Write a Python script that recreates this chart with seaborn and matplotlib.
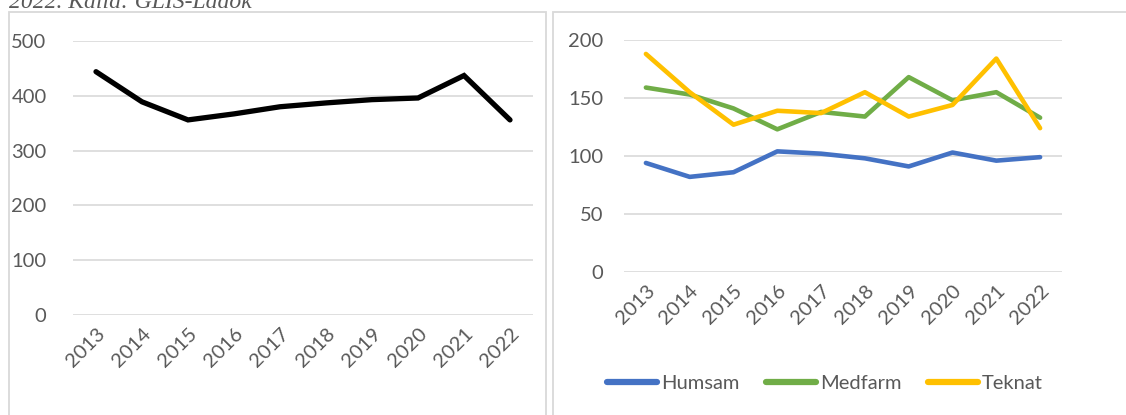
import matplotlib
matplotlib.use("Agg")
import matplotlib.pyplot as plt
import seaborn as sns
import pandas as pd
from matplotlib.patches import Rectangle

# data
years = [str(y) for y in range(2013, 2023)]
total = [444, 389, 356, 367, 380, 387, 393, 396, 437, 356]
humsam = [94, 82, 86, 104, 102, 98, 91, 103, 96, 99]
medfarm = [159, 153, 141, 123, 138, 134, 168, 148, 155, 133]
teknat = [188, 155, 127, 139, 137, 155, 134, 144, 184, 124]

series_names = ["Humsam", "Medfarm", "Teknat"]
series_colors = ["#4472C4", "#70AD47", "#FFC000"]

sns.set_style("white")
plt.rcParams['font.family'] = ['Lato', 'DejaVu Sans']

W, H = 1126, 415
fig = plt.figure(figsize=(W / 100, H / 100), dpi=100)

def fx(px):
    return px / W

def fy(py):
    return 1 - py / H

# chart frames (cut off at the edges like the screenshot)
for x0, x1 in [(9, 546), (553, 1140)]:
    fig.patches.append(Rectangle((fx(x0), fy(430)), fx(x1 - x0), (430 - 12) / H,
                                 transform=fig.transFigure, fill=False,
                                 edgecolor="#D9D9D9", lw=1.3, clip_on=False))

fig.text(fx(9), fy(8), "2022. Källa: GLIS-Ladok", family="Liberation Serif",
         style="italic", fontsize=17, color="#595959", va="baseline", ha="left")

tick_color = "#595959"
fs = 14.5

def style_axis(ax, ymax, step, pad):
    ax.set_xlim(-0.5, 9.5)
    ax.set_ylim(0, ymax)
    ax.set_yticks(range(0, ymax + 1, step))
    ax.set_xticks(range(len(years)))
    ax.set_xticklabels(years, rotation=45, ha="right", rotation_mode="anchor")
    ax.grid(axis="y", color="#D9D9D9", lw=1.2)
    ax.set_axisbelow(True)
    for s in ax.spines.values():
        s.set_visible(False)
    ax.tick_params(axis="both", length=0, labelsize=fs, colors=tick_color)
    ax.tick_params(axis="y", pad=pad)
    ax.tick_params(axis="x", pad=7)
    ax.set_xlabel("")
    ax.set_ylabel("")

# left chart
ax1 = fig.add_axes([fx(73), fy(315), fx(533 - 73), (315 - 41) / H])
df1 = pd.DataFrame({"year": range(len(years)), "value": total})
sns.lineplot(data=df1, x="year", y="value", ax=ax1, color="black", lw=3.8)
for ln in ax1.lines:
    ln.set_solid_capstyle("round")
    ln.set_solid_joinstyle("miter")
style_axis(ax1, 500, 100, 19)

# right chart
ax2 = fig.add_axes([fx(624), fy(272), fx(1062 - 624), (272 - 40) / H])
df2 = pd.DataFrame({
    "year": list(range(len(years))) * 3,
    "value": humsam + medfarm + teknat,
    "group": [n for n in series_names for _ in years],
})
sns.lineplot(data=df2, x="year", y="value", hue="group", hue_order=series_names,
             palette=series_colors, ax=ax2, lw=3.3)
for ln in ax2.lines:
    ln.set_solid_capstyle("round")
style_axis(ax2, 200, 50, 15)

ax2.legend_.remove()
handles = [plt.Line2D([], [], color=c, lw=4.5, solid_capstyle="round") for c in series_colors]
leg = fig.legend(handles, series_names, loc="center", bbox_to_anchor=(fx(825), fy(383)),
                 ncol=3, frameon=False, fontsize=fs, handlelength=2.5,
                 handletextpad=0.2, columnspacing=1.3)
for t in leg.get_texts():
    t.set_color(tick_color)

fig.savefig("out.png", dpi=100)
